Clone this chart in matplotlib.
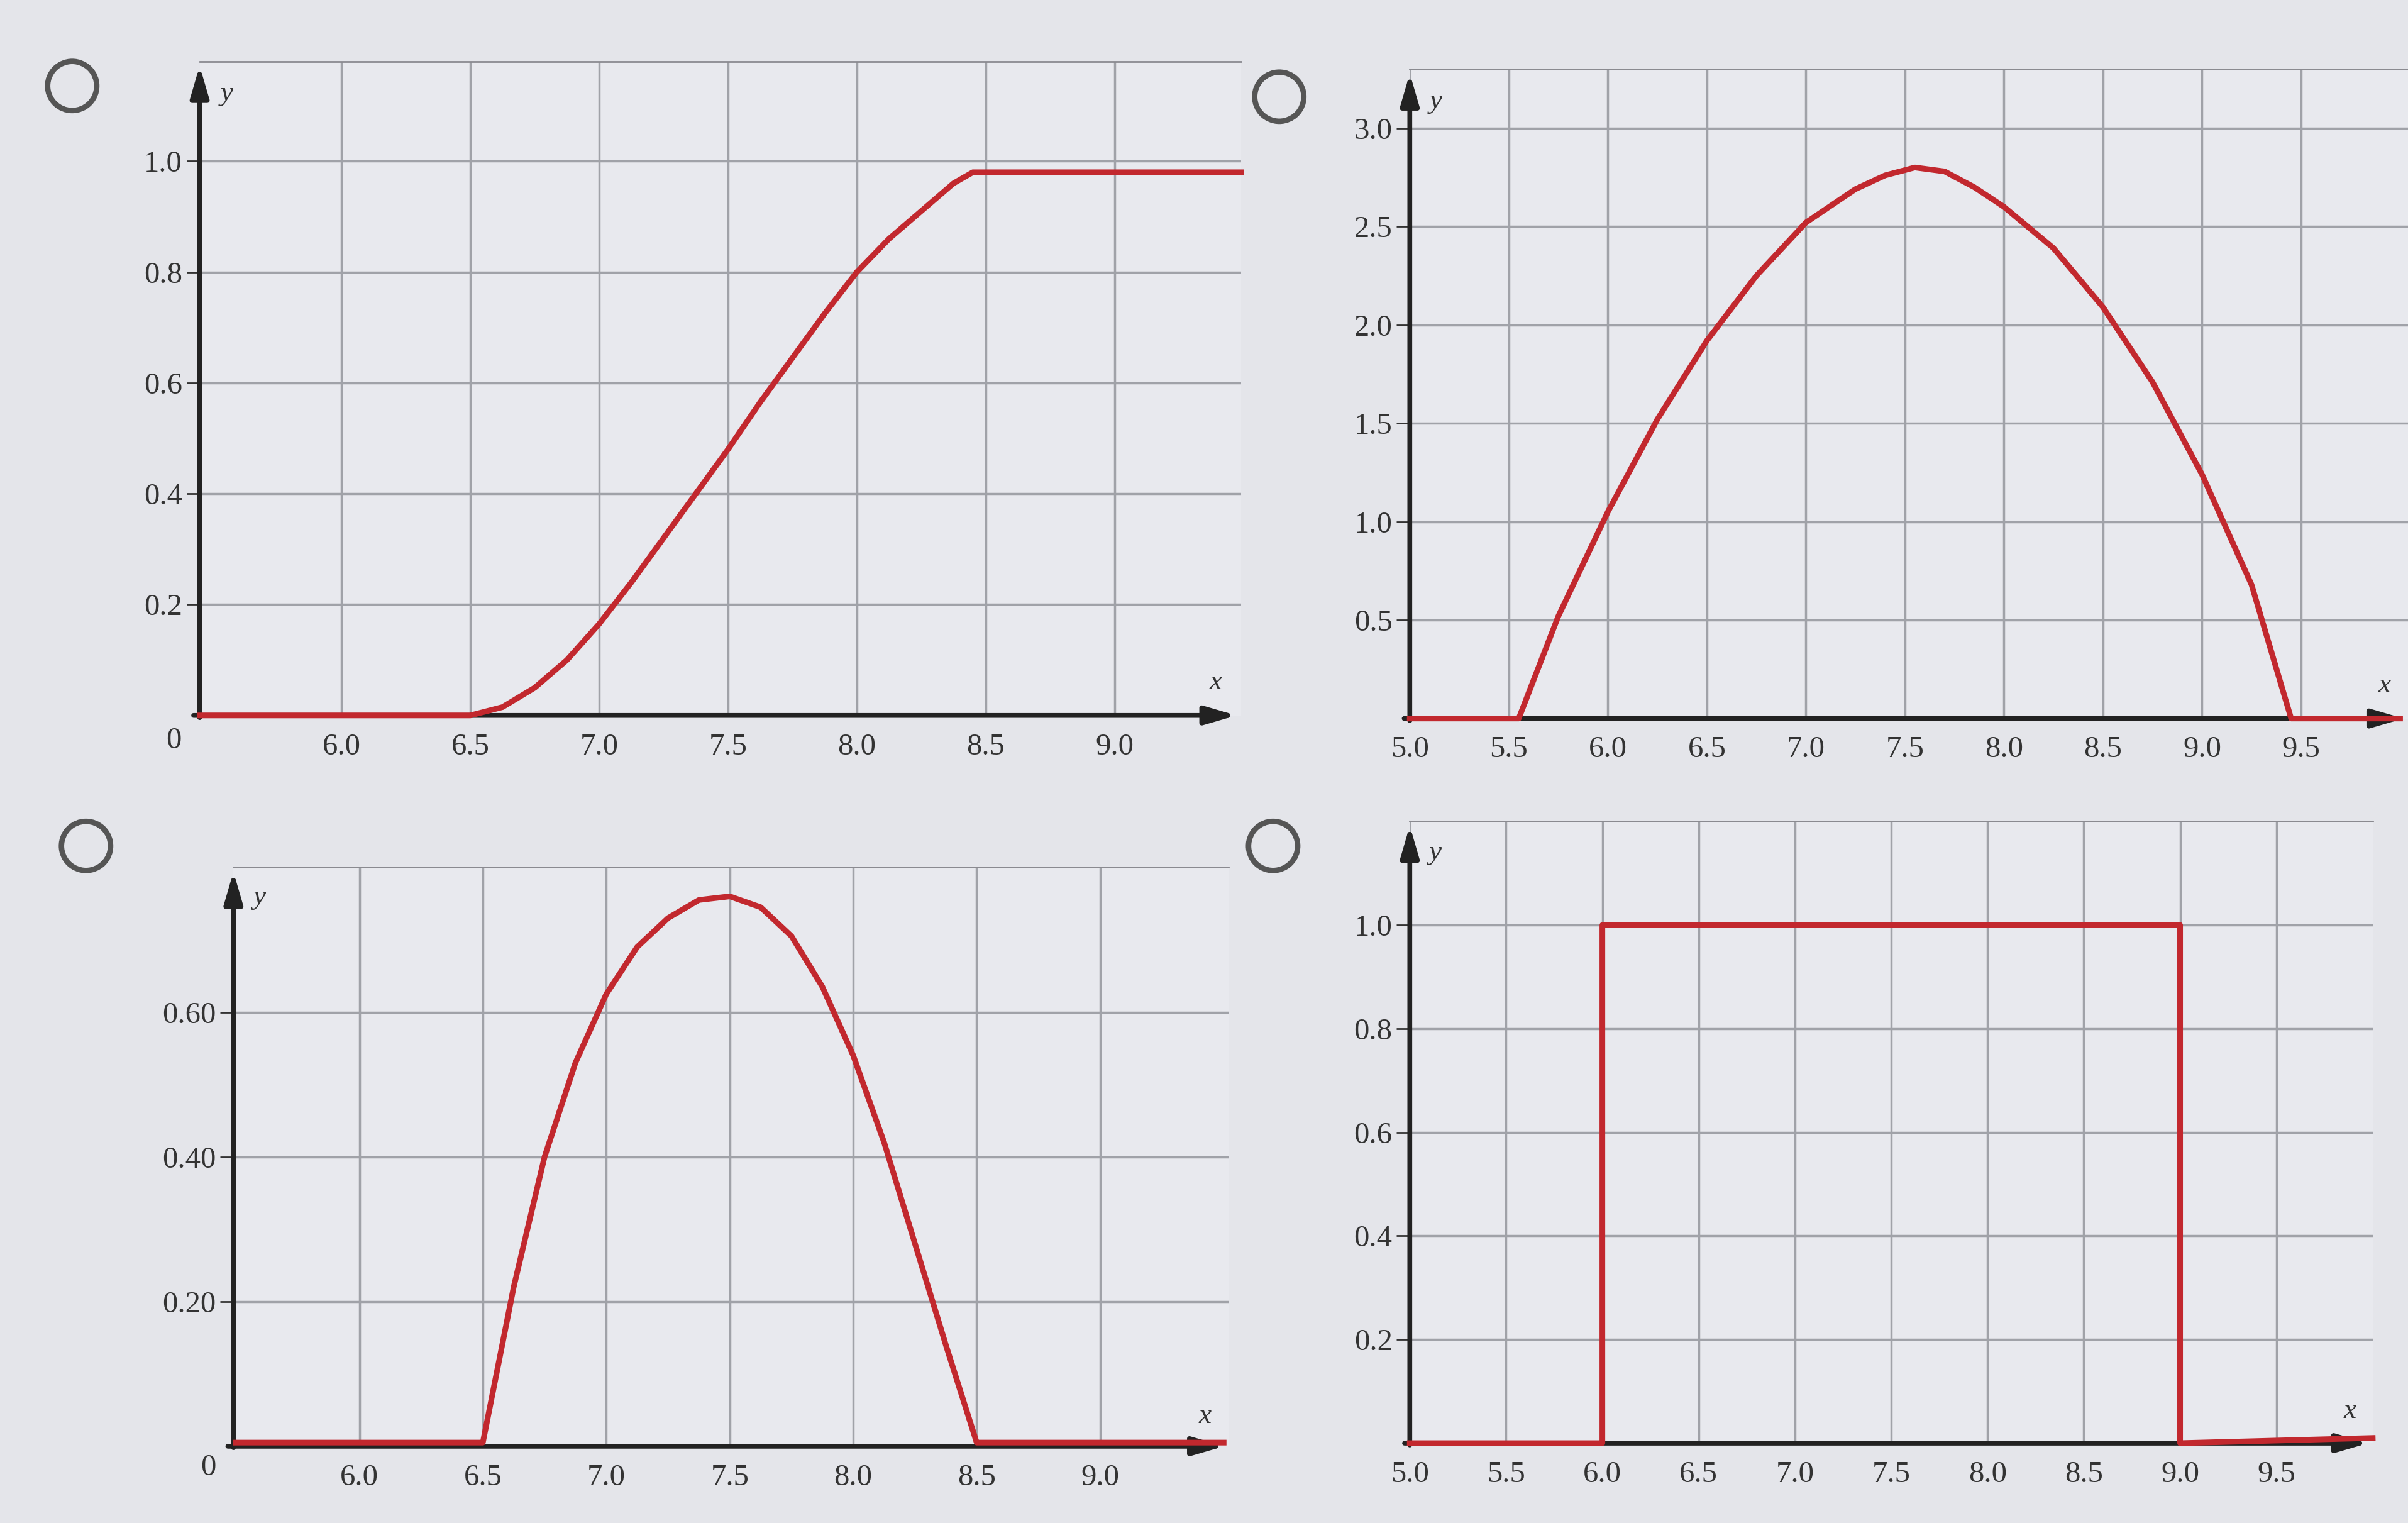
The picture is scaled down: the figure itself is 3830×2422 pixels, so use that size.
import matplotlib
matplotlib.use("Agg")
import matplotlib.pyplot as plt
from matplotlib.patches import Ellipse

# ---- data ----
p1_x = [5.45, 6.5, 6.625, 6.75, 6.875, 7.0, 7.125, 7.25, 7.375, 7.5, 7.625, 7.75, 7.875, 8.0, 8.125, 8.25, 8.375, 8.45, 9.49]
p1_y = [0.0, 0.0, 0.015, 0.05, 0.10, 0.165, 0.24, 0.32, 0.40, 0.48, 0.565, 0.645, 0.725, 0.80, 0.86, 0.91, 0.96, 0.98, 0.98]
p2_x = [5.0, 5.55, 5.75, 6.0, 6.25, 6.5, 6.75, 7.0, 7.25, 7.4, 7.55, 7.7, 7.85, 8.0, 8.25, 8.5, 8.75, 9.0, 9.25, 9.45, 10.0]
p2_y = [0.0, 0.0, 0.52, 1.05, 1.52, 1.92, 2.25, 2.52, 2.69, 2.76, 2.80, 2.78, 2.70, 2.60, 2.39, 2.09, 1.71, 1.24, 0.68, 0.0, 0.0]
p3_x = [5.5, 6.5, 6.625, 6.75, 6.875, 7.0, 7.125, 7.25, 7.375, 7.5, 7.625, 7.75, 7.875, 8.0, 8.125, 8.25, 8.375, 8.5, 9.5]
p3_y = [0.005, 0.005, 0.22, 0.40, 0.53, 0.625, 0.69, 0.73, 0.755, 0.76, 0.745, 0.705, 0.635, 0.54, 0.42, 0.28, 0.14, 0.005, 0.005]
p4_x = [5.0, 6.0, 6.0, 9.0, 9.0, 10.0]
p4_y = [0.0, 0.0, 1.0, 1.0, 0.0, 0.01]

p1_xt = [6.0, 6.5, 7.0, 7.5, 8.0, 8.5, 9.0]; p1_yt = [0.2, 0.4, 0.6, 0.8, 1.0]
p2_xt = [5.0, 5.5, 6.0, 6.5, 7.0, 7.5, 8.0, 8.5, 9.0, 9.5]; p2_yt = [0.5, 1.0, 1.5, 2.0, 2.5, 3.0]
p3_xt = [6.0, 6.5, 7.0, 7.5, 8.0, 8.5, 9.0]; p3_yt = [0.20, 0.40, 0.60]
p4_xt = [5.0, 5.5, 6.0, 6.5, 7.0, 7.5, 8.0, 8.5, 9.0, 9.5]; p4_yt = [0.2, 0.4, 0.6, 0.8, 1.0]

W, H = 1568, 992
fig = plt.figure(figsize=(15.32, 9.688), dpi=250)
fig.patch.set_facecolor('#e4e5ea')
RED = '#c2282e'
SERIF = 'Liberation Serif'

def circle(cx, cy):
    e = Ellipse((cx / W, 1 - cy / H), 32 / W, 32 / H, transform=fig.transFigure, fill=False, ec='#555', lw=2.5)
    fig.patches.append(e)

def panel(x0, y0, x1, y1, xlim, ylim, xs, ys, xt, yt, yfmt, zero, circ):
    ax = fig.add_axes([x0 / W, 1 - y0 / H, (x1 - x0) / W, (y0 - y1) / H])
    ax.set_facecolor('#e8e9ee')
    ax.set_xlim(*xlim); ax.set_ylim(*ylim)
    for s in ax.spines.values():
        s.set_visible(False)
    ax.spines['top'].set_visible(True); ax.spines['top'].set_color('#8a8a90')
    ax.set_xticks(xt); ax.set_yticks(yt)
    ax.grid(True, color='#a0a2a8', lw=1.0)
    ax.set_xticklabels([f"{v:.1f}" for v in xt], fontfamily=SERIF, fontsize=14, color='#333')
    ax.set_yticklabels([yfmt.format(v) for v in yt], fontfamily=SERIF, fontsize=14, color='#333')
    ax.tick_params(axis='x', length=0, pad=8)
    ax.tick_params(axis='y', length=6, direction='out', color='#333', pad=2)
    ax.plot(xs, ys, color=RED, lw=2.6, zorder=5, clip_on=False)
    ax.annotate('', xy=(1.0, 0), xytext=(-0.01, 0), xycoords='axes fraction',
                arrowprops=dict(arrowstyle='-|>,head_length=1.2,head_width=0.35', color='#222', lw=2.2))
    ax.annotate('', xy=(0, 1.0), xytext=(0, -0.01), xycoords='axes fraction',
                arrowprops=dict(arrowstyle='-|>,head_length=1.2,head_width=0.35', color='#222', lw=2.2))
    ax.text(0.97, 0.04, 'x', transform=ax.transAxes, fontfamily=SERIF, style='italic', fontsize=13, color='#333')
    ax.text(0.02, 0.97, 'y', transform=ax.transAxes, fontfamily=SERIF, style='italic', fontsize=13, color='#333', va='top')
    if zero:
        ax.text(-0.025, -0.05, '0', transform=ax.transAxes, fontfamily=SERIF, fontsize=14, color='#333', ha='center')
    circle(*circ)
    return ax

panel(130, 466, 808, 40, (5.45, 9.49), (0, 1.18), p1_x, p1_y, p1_xt, p1_yt, "{:.1f}", True, (47, 56))
panel(918, 468, 1568, 45, (5.0, 10.04), (0, 3.3), p2_x, p2_y, p2_xt, p2_yt, "{:.1f}", False, (833, 63))
panel(152, 942, 800, 565, (5.49, 9.52), (0, 0.80), p3_x, p3_y, p3_xt, p3_yt, "{:.2f}", True, (56, 551))
panel(918, 940, 1545, 535, (5.0, 10.0), (0, 1.2), p4_x, p4_y, p4_xt, p4_yt, "{:.1f}", False, (829, 551))

fig.savefig('out.png', dpi=250, facecolor=fig.get_facecolor())
